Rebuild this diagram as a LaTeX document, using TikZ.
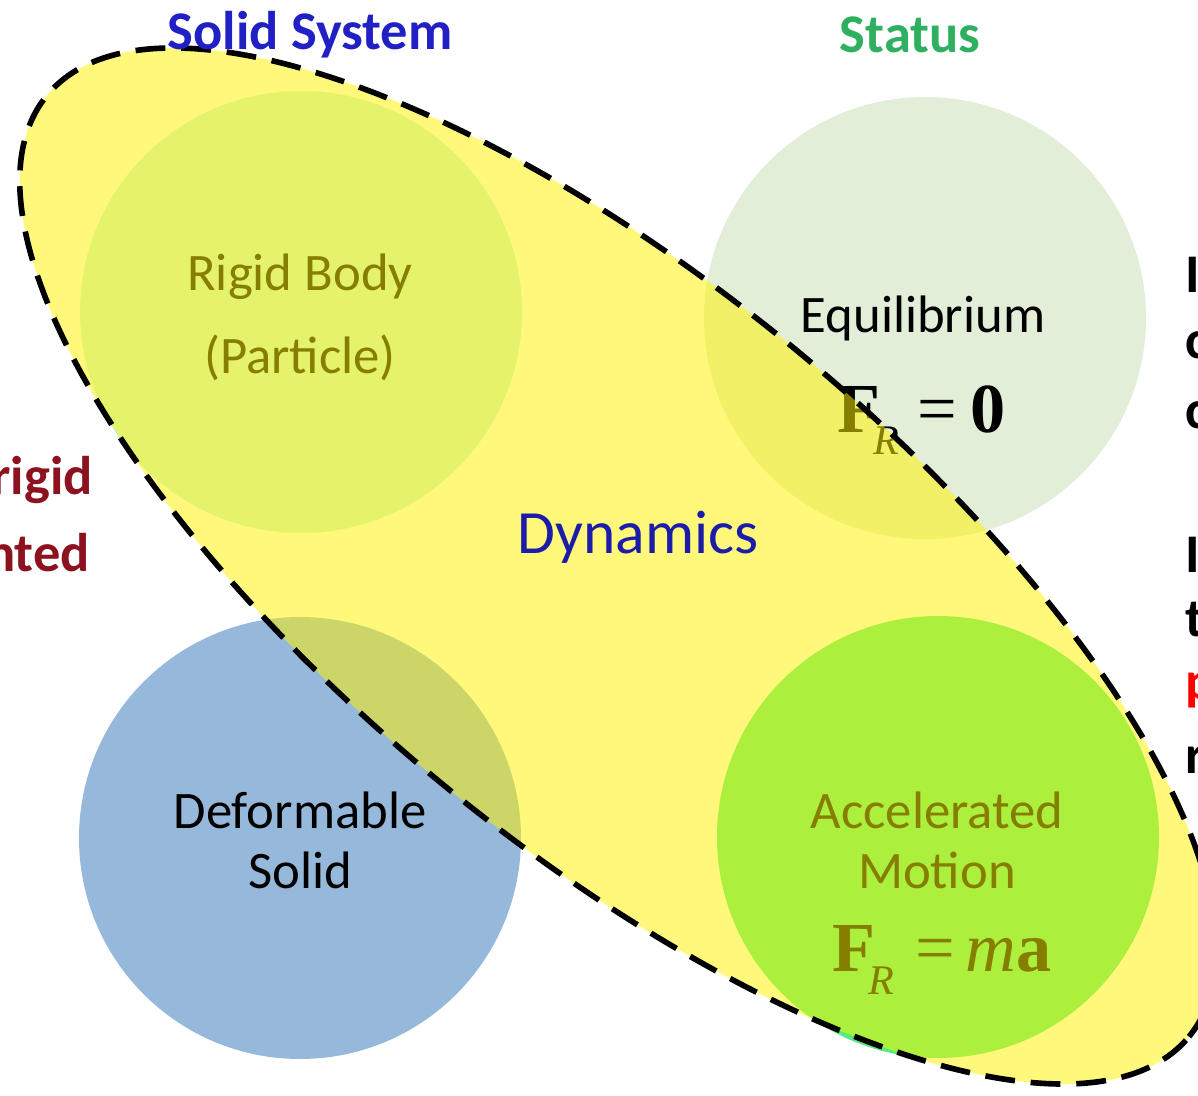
\documentclass[tikz,border=0pt]{standalone}
\usepackage{fontspec}
\setmainfont{Carlito}
\newfontfamily\eqfont{Liberation Serif}
\usetikzlibrary{shapes.geometric,positioning}
\definecolor{rigidgreen}{RGB}{200,245,220}
\definecolor{palegreen}{RGB}{226,238,216}
\definecolor{softblue}{RGB}{150,184,218}
\definecolor{limegreen}{RGB}{84,236,128}
\definecolor{titleblue}{RGB}{32,32,196}
\definecolor{statusgreen}{RGB}{46,176,96}
\definecolor{darkred}{RGB}{140,18,32}
\definecolor{dynblue}{RGB}{28,28,170}

\begin{document}
\begin{tikzpicture}[
    disk/.style={circle, minimum size=8.84cm, inner sep=0pt},
    lbl/.style={font=\fontsize{30}{36}\selectfont},
    head/.style={font=\bfseries\fontsize{31}{36}\selectfont},
    eqn/.style={font=\eqfont\fontsize{40}{44}\selectfont},
    cutleft/.style={head, text=darkred, anchor=east, inner sep=0pt},
    cutright/.style={head, anchor=west, inner sep=0pt}
  ]
  \useasboundingbox (0,0) rectangle (23.96,21.9);

  % the four circles
  \node[disk, fill=rigidgreen] (rigid)  at (6.02,15.66) {};
  \node[disk, fill=palegreen]  (equil)  at (18.5,15.54) {};
  \node[disk, fill=softblue]   (deform) at (6.0,5.14) {};
  \node[disk, fill=limegreen]  (accel)  at (18.76,5.16) {};

  % texts inside the circles
  \node[lbl] (rigidtxt) at (6.0,16.36) {Rigid Body};
  \node[lbl] (parttxt)  at (6.0,14.74) {(Particle)};
  \node[lbl] (equiltxt) at (18.46,15.54) {Equilibrium};
  \node[eqn] (eqzero)   at (18.44,13.5)
    {\textbf{F}\hspace{-0.1em}\raisebox{-0.32em}{\fontsize{24}{26}\selectfont\itshape R}\hspace{0.25em}=\hspace{0.2em}\textbf{0}};
  \node[lbl] (deftxt)   at (6.0,5.7) {Deformable};
  \node[lbl] (soltxt)   at (6.0,4.5) {Solid};
  \node[lbl] (acctxt)   at (18.74,5.7) {Accelerated};
  \node[lbl] (mottxt)   at (18.74,4.5) {Motion};
  \node[eqn] (eqma)     at (18.84,2.7)
    {\textbf{F}\hspace{-0.1em}\raisebox{-0.32em}{\fontsize{24}{26}\selectfont\itshape R}\hspace{0.3em}=\hspace{0.15em}\textit{m}\textbf{a}};

  % text cut at the edges
  \node[cutleft] (lcut1) at (1.86,12.3) {rigid};
  \node[cutleft] (lcut2) at (1.80,10.84) {nted};
  \node[cutright] (rcut1) at (23.7,16.4) {I};
  \node[cutright] (rcut2) at (23.7,15.0) {c};
  \node[cutright] (rcut3) at (23.7,13.6) {c};
  \node[cutright] (rcut4) at (23.7,10.8) {I};
  \node[cutright] (rcut5) at (23.7,9.5) {t};
  \node[cutright, text=red] (rcut6) at (23.7,8.1) {p};
  \node[cutright] (rcut7) at (23.7,6.7) {r};

  % dynamics ellipse on top
  \node[ellipse, minimum width=29.6cm, minimum height=11.2cm, rotate=-39.5,
        fill=yellow, fill opacity=0.52, draw=black, line width=3.2pt,
        dash pattern=on 17pt off 9pt] (dyn) at (12.36,10.58) {};
  \node[lbl, font=\fontsize{35}{40}\selectfont, text=dynblue] (dyntxt) at (12.76,11.16) {Dynamics};

  % headings
  \node[head, text=titleblue]   (solid)  at (6.2,21.2) {Solid System};
  \node[head, text=statusgreen] (status) at (18.2,21.2) {Status};
\end{tikzpicture}
\end{document}
